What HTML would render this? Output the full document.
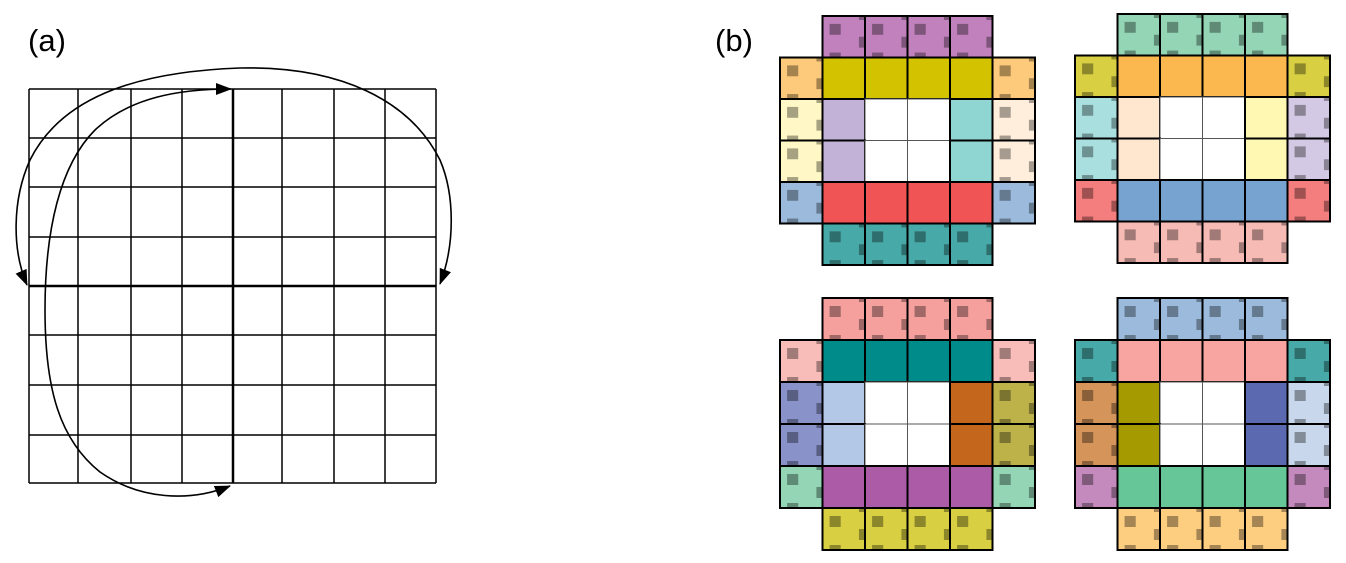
<!DOCTYPE html>
<html><head><meta charset="utf-8"><style>
html,body{margin:0;padding:0;background:#fff;width:1346px;height:563px;overflow:hidden}
svg{display:block}
</style></head><body>
<svg id="s" width="1346" height="563" viewBox="0 0 1346 563" xmlns="http://www.w3.org/2000/svg">
<defs>
<g id="mk" fill="#000" fill-opacity="0.35">
<rect x="7" y="8" width="11" height="11"/>
<rect x="36" y="0" width="6" height="4"/>
<rect x="36" y="21" width="6" height="11"/>
<rect x="7" y="37" width="11" height="5"/>
</g>
<marker id="ah" viewBox="0 0 16 12" refX="15" refY="6" markerWidth="16" markerHeight="12" orient="auto-start-reverse" markerUnits="userSpaceOnUse">
<path d="M0,0 L16,6 L0,12 z" fill="#000"/>
</marker>
</defs>
<text x="28" y="51" font-family="Liberation Sans, sans-serif" font-size="31">(a)</text>
<text x="715" y="51" font-family="Liberation Sans, sans-serif" font-size="31">(b)</text>
<g stroke="#000" stroke-width="1.5" fill="none">
<path d="M29,89H436M29,138H436M29,187H436M29,237H436M29,335H436M29,385H436M29,435H436M29,483H436"/>
<path d="M29,89V483M78,89V483M131,89V483M182,89V483M282,89V483M334,89V483M385,89V483M436,89V483"/>
<path d="M29,286H436M233,89V483" stroke-width="2.5"/>
<path d="M27,285 C12,250 12,200 30,160 C60,100 130,72 240,68 C340,66 410,100 440,160 C455,195 455,245 440,284" stroke-width="1.6" marker-start="url(#ah)" marker-end="url(#ah)"/>
<path d="M231,89 C180,89 130,97 95,130 C60,165 45,230 45,310 C45,390 60,440 100,472 C140,500 190,502 230,486" stroke-width="1.6" marker-start="url(#ah)" marker-end="url(#ah)"/>
</g>
<g id="b"></g>
</svg>
<script>
var blocks=[
{L:780,T:16,h:41.5,top:"#c081bc",s1:"#fdc97a",c1:"#d2c200",lp:"#fff8c6",ls:"#c3b2d8",rs:"#8fd6d2",rp:"#ffeedc",s4:"#9bbadc",c4:"#f05454",bot:"#48aaa8"},
{L:1075,T:14,h:41.5,top:"#93d5b5",s1:"#d9cf42",c1:"#fbb84e",lp:"#aadfe0",ls:"#fee6cf",rs:"#fff8b2",rp:"#d3c9e4",s4:"#f47d7d",c4:"#76a3d0",bot:"#f7bbb5"},
{L:780,T:298,h:42,top:"#f6a09e",s1:"#f8bdb9",c1:"#008b8b",lp:"#8993c9",ls:"#b3c7e7",rs:"#c4671c",rp:"#bdb24a",s4:"#93d5b5",c4:"#ac5ca6",bot:"#d9cf42"},
{L:1075,T:298,h:42,top:"#9bbadc",s1:"#48aaa8",c1:"#f8a4a0",lp:"#d59459",ls:"#a59a00",rs:"#5a69b0",rp:"#c8d7ec",s4:"#c48abd",c4:"#66c697",bot:"#fdcd80"}];
var o="",w=42.5;
function cell(x,y,h,c,p){o+='<rect x="'+x+'" y="'+y+'" width="'+w+'" height="'+h+'" fill="'+c+'" stroke="'+(c=="#fff"?"#555":"#000")+'" stroke-width="'+(c=="#fff"?1:2)+'"/>';
if(p)o+='<use href="#mk" transform="translate('+x+','+y+') scale('+(w/42)+','+(h/42)+')"/>';}
blocks.forEach(function(b){var h=b.h;
for(var j=0;j<6;j++)for(var i=0;i<6;i++){var x=b.L+i*w,y=b.T+j*h;
if(j==0){if(i>=1&&i<=4)cell(x,y,h,b.top,1);}
else if(j==5){if(i>=1&&i<=4)cell(x,y,h,b.bot,1);}
else if(j==1||j==4){var s=j==1?b.s1:b.s4,c=j==1?b.c1:b.c4;cell(x,y,h,(i==0||i==5)?s:c,(i==0||i==5));}
else{var col=i==0?b.lp:i==1?b.ls:i==4?b.rs:i==5?b.rp:"#fff";cell(x,y,h,col,(i==0||i==5));}
}});
document.getElementById("b").innerHTML=o;
</script>
</body></html>
